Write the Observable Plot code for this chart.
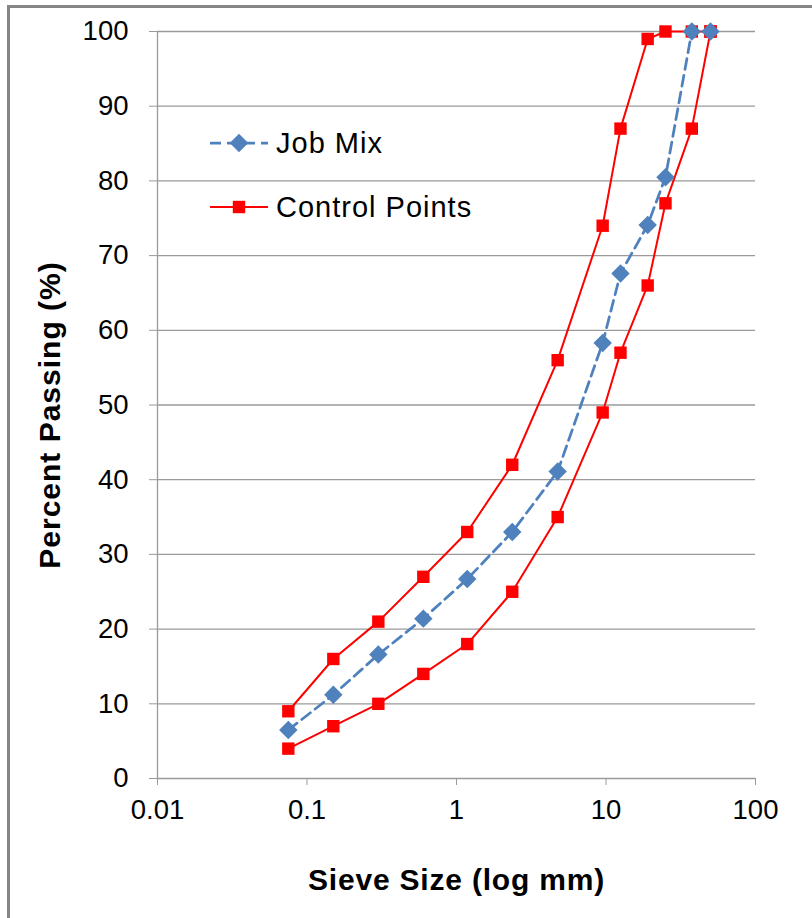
<!DOCTYPE html>
<html>
<head>
<meta charset="utf-8">
<script src="https://cdn.jsdelivr.net/npm/d3@7"></script>
<script src="https://cdn.jsdelivr.net/npm/@observablehq/plot@0.6"></script>
<style>
  body { margin: 0; background: #fff; }
  #wrap { position: relative; width: 812px; height: 918px; overflow: hidden; font-family: "Liberation Sans", Arial, sans-serif; background:#fff; }
  #frame { position: absolute; left: 7px; top: 5px; width: 900px; height: 1000px; border-left: 3px solid #868686; border-top: 3px solid #868686; }
  #chart { position: absolute; left: 0; top: 0; }
  #legend { position: absolute; left: 0; top: 0; }
</style>
</head>
<body>
<div id="wrap">
  <div id="frame"></div>
  <div id="chart"></div>
  <svg id="legend" width="812" height="918"></svg>
</div>
<script>
// Sieve sizes (mm)
const sieve = [0.075, 0.15, 0.3, 0.6, 1.18, 2.36, 4.75, 9.5, 12.5, 19, 25, 37.5, 50];
// Job mix percent passing
const jobMix = [6.5, 11.2, 16.6, 21.4, 26.7, 33.0, 41.1, 58.3, 67.6, 74.1, 80.5, 100, 100];
// Control points: upper and lower limits
const upperLimit = [9, 16, 21, 27, 33, 42, 56, 74, 87, 99, 100, 100, 100];
const lowerLimit = [4, 7, 10, 14, 18, 25, 35, 49, 57, 66, 77, 87, 100];
// Axis ticks
const xTicks = [0.01, 0.1, 1, 10, 100];
const yTicks = [0, 10, 20, 30, 40, 50, 60, 70, 80, 90, 100];
const seriesNames = ["Job Mix", "Control Points"];
const xTitle = "Sieve Size (log mm)";
const yTitle = "Percent Passing (%)";

const jobData = sieve.map((s, i) => ({size: s, pass: jobMix[i]}));
const controlData = sieve.map((s, i) => ({size: s, pass: upperLimit[i]}))
  .concat(sieve.map((s, i) => ({size: s, pass: lowerLimit[i]})).reverse());

const BLUE = "#4F81BD";
const RED = "#FF0000";
const GRID = "#9a9a9a";
const FONT = "'Liberation Sans', Arial, sans-serif";

const chart = Plot.plot({
  width: 812,
  height: 918,
  marginLeft: 157,
  marginRight: 57,
  marginTop: 31,
  marginBottom: 140,
  style: { fontFamily: FONT, background: "transparent", color: "#000" },
  x: { type: "log", domain: [0.01, 100], ticks: xTicks, tickFormat: d => String(d) },
  y: { domain: [0, 100], ticks: yTicks },
  marks: [
    Plot.ruleY(yTicks.filter(d => d > 0), { stroke: GRID, strokeWidth: 1.3 }),
    Plot.axisY({ ticks: yTicks, tickSize: 8, tickPadding: 21, stroke: GRID, fontSize: 27.5, fill: "#000", label: null }),
    Plot.axisX({ ticks: xTicks, tickSize: 7, tickPadding: 14, stroke: GRID, fontSize: 27.5, fill: "#000", label: null, tickFormat: d => String(d) }),
    Plot.ruleX([0.01], { stroke: GRID, strokeWidth: 1.3 }),
    Plot.ruleY([0], { stroke: GRID, strokeWidth: 1.3 }),
    Plot.line(controlData, { x: "size", y: "pass", stroke: RED, strokeWidth: 2 }),
    Plot.line(jobData, { x: "size", y: "pass", stroke: BLUE, strokeWidth: 2.75, strokeDasharray: "11,6" }),
    Plot.dot(controlData, { x: "size", y: "pass", symbol: "square", r: 7, fill: RED }),
    Plot.dot(jobData, { x: "size", y: "pass", symbol: "diamond2", r: 8.3, fill: BLUE }),
    Plot.text([xTitle], { frameAnchor: "bottom", dy: 102, fontSize: 30, fontWeight: "bold", fill: "#000", lineAnchor: "middle", textAnchor: "middle" }),
    Plot.text([yTitle], { frameAnchor: "left", dx: -107, dy: 10, rotate: -90, fontSize: 30, fontWeight: "bold", fill: "#000", lineAnchor: "middle", textAnchor: "middle" })
  ]
});
document.getElementById("chart").appendChild(chart);
// widen axis titles slightly to match the reference's text width
d3.select(chart).selectAll("text").each(function() {
  const t = this.textContent;
  if (t === xTitle) this.setAttribute("letter-spacing", "0.8");
  if (t === yTitle) this.setAttribute("letter-spacing", "1");
});

// Legend (inside plot area, top-left)
const lg = d3.select("#legend");
const entries = [
  { name: seriesNames[0], y: 143, color: BLUE, dash: "11,6", width: 2.75, symbol: d3.symbolDiamond2, size: Math.PI * 69 },
  { name: seriesNames[1], y: 207, color: RED, dash: null, width: 2, symbol: d3.symbolSquare, size: Math.PI * 49 }
];
entries.forEach(e => {
  const g = lg.append("g");
  g.append("line").attr("x1", 210).attr("x2", 268).attr("y1", e.y).attr("y2", e.y)
    .attr("stroke", e.color).attr("stroke-width", e.width).attr("stroke-dasharray", e.dash);
  g.append("path").attr("d", d3.symbol(e.symbol, e.size)()).attr("transform", `translate(239,${e.y})`).attr("fill", e.color);
  g.append("text").attr("x", 276).attr("y", e.y).attr("dy", "0.35em")
    .attr("font-family", FONT).attr("font-size", 29).attr("letter-spacing", 1).attr("fill", "#000").text(e.name);
});
</script>
</body>
</html>
